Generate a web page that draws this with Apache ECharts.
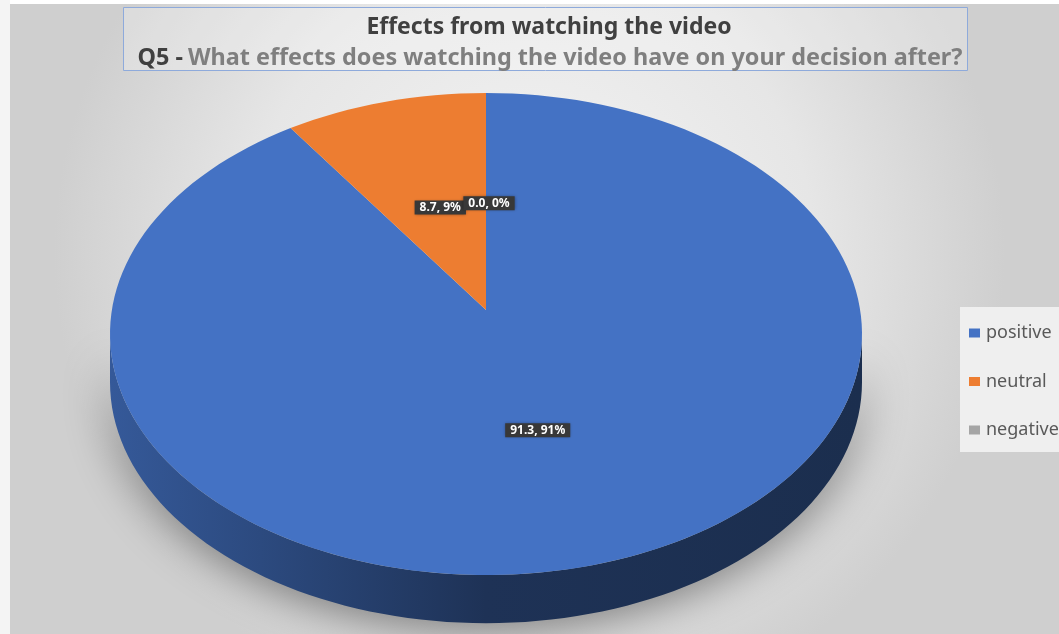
<!DOCTYPE html>
<html>
<head>
<meta charset="utf-8">
<script src="https://cdn.jsdelivr.net/npm/echarts@6/dist/echarts.min.js"></script>
<style>
html,body{margin:0;padding:0;}
#chart{width:1059px;height:634px;}
</style>
</head>
<body>
<div id="chart"></div>
<script>
// 数据
var categories = ['positive', 'neutral', 'negative'];
var values = [91.3, 8.7, 0.0];
var colors = ['#4472c4', '#ed7d31', '#a5a5a5'];
var mainTitle = 'Effects from watching the video';
var subTitleHead = 'Q5 -';
var subTitleBody = 'What effects does watching the video have on your decision after?';

// 饼图参数（椭圆 3D 效果）
var apexY = 0.1;     // 扇形顶点偏移
var depth = 0.2;     // 侧面厚度
var labelR = 0.48;   // 标签半径

var total = values.reduce(function (a, b) { return a + b; }, 0);
var sliceData = [];
var acc = 0;
values.forEach(function (v) {
    sliceData.push([acc / total, (acc + v) / total, v]);
    acc += v;
});

function pt(api, deg, dy) {
    var r = deg * Math.PI / 180;
    return api.coord([Math.cos(r), Math.sin(r) + (dy || 0)]);
}

// 颜色变暗
function darken(c, t) {
    var n = parseInt(c.slice(1), 16);
    var r = Math.round(((n >> 16) & 255) * (1 - t));
    var g = Math.round(((n >> 8) & 255) * (1 - t));
    var b = Math.round((n & 255) * (1 - t));
    return 'rgb(' + r + ',' + g + ',' + b + ')';
}

function sideGradient(c) {
    return new echarts.graphic.LinearGradient(0, 0, 1, 0, [
        { offset: 0, color: darken(c, 0.22) },
        { offset: 0.2, color: darken(c, 0.35) },
        { offset: 0.5, color: darken(c, 0.56) },
        { offset: 1, color: darken(c, 0.6) }
    ]);
}

function makeRender(idx) {
    return function (params, api) {
        var start = api.value(0), end = api.value(1), val = api.value(2);
        var a0 = 90 - start * 360, a1 = 90 - end * 360;
        var children = [];
        var c = colors[idx];

        // 侧面（只画朝前的部分）
        [-1, 0, 1].forEach(function (k) {
            var lo = Math.max(a1, -180 + 360 * k), hi = Math.min(a0, 360 * k);
            if (hi - lo <= 0.01) return;
            var pts = [], bot = [];
            var n = Math.max(2, Math.ceil((hi - lo) / 2));
            for (var j = 0; j <= n; j++) {
                var a = hi - (hi - lo) * j / n;
                pts.push(pt(api, a));
                bot.unshift(pt(api, a, -depth));
            }
            children.push({
                type: 'polygon',
                shape: { points: pts.concat(bot) },
                style: {
                    fill: sideGradient(c),
                    shadowBlur: 45,
                    shadowColor: 'rgba(0,0,0,0.5)',
                    shadowOffsetY: 4
                }
            });
        });

        // 顶面
        if (a0 - a1 > 0.01) {
            var top = [api.coord([0, apexY])];
            var m = Math.max(2, Math.ceil((a0 - a1) / 2));
            for (var i = 0; i <= m; i++) {
                top.push(pt(api, a0 - (a0 - a1) * i / m));
            }
            children.push({
                type: 'polygon',
                shape: { points: top },
                style: { fill: c }
            });
        }

        // 标签
        var mid = (a0 + a1) / 2 * Math.PI / 180;
        var lp = api.coord([labelR * Math.cos(mid), apexY + labelR * Math.sin(mid)]);
        children.push({
            type: 'text',
            x: lp[0] + 3,
            y: lp[1] + 9,
            z2: 10,
            style: {
                text: val.toFixed(1) + ', ' + Math.round(val / total * 100) + '%',
                fill: '#ffffff',
                font: 'bold 12px "Noto Sans"',
                align: 'center',
                verticalAlign: 'middle',
                backgroundColor: '#383838',
                padding: [1, 5, 1, 5],
                shadowBlur: 3,
                shadowColor: 'rgba(0,0,0,0.4)'
            }
        });
        return { type: 'group', children: children };
    };
}

var mycharts = echarts.init(document.getElementById('chart'));
var options = {
    backgroundColor: {
        type: 'radial', x: 0.5, y: 0.4, r: 0.75,
        colorStops: [
            { offset: 0, color: '#f5f5f5' },
            { offset: 0.6, color: '#e6e6e6' },
            { offset: 1, color: '#cfcfcf' }
        ]
    },
    title: [
        {
            text: mainTitle,
            left: 544,
            top: 11,
            textAlign: 'center',
            textStyle: { fontFamily: 'Noto Sans', fontWeight: 'bold', fontSize: 23, color: '#404040' }
        },
        {
            text: '{a|' + subTitleHead + '} {b|' + subTitleBody + '}',
            left: 545,
            top: 42,
            textAlign: 'center',
            textStyle: {
                rich: {
                    a: { fontFamily: 'Noto Sans', fontWeight: 'bold', fontSize: 23.4, color: '#404040' },
                    b: { fontFamily: 'Noto Sans', fontWeight: 'bold', fontSize: 23.4, color: '#7f7f7f' }
                }
            }
        }
    ],
    graphic: [
        { type: 'rect', left: 0, top: 0, shape: { width: 1059, height: 4 }, style: { fill: '#ffffff' }, z: -1 },
        { type: 'rect', left: 0, top: 0, shape: { width: 10, height: 634 }, style: { fill: '#f4f4f4' }, z: -1 },
        { type: 'rect', left: 123, top: 7, shape: { width: 844, height: 63 },
          style: { fill: 'rgba(255,255,255,0.25)', stroke: '#8eaadb', lineWidth: 1 }, z: -1 }
    ],
    legend: {
        data: categories,
        orient: 'vertical',
        left: 960,
        top: 307,
        padding: [17, 20, 13, 9],
        itemGap: 30.5,
        itemWidth: 11,
        itemHeight: 9,
        icon: 'rect',
        backgroundColor: '#efefef',
        textStyle: { fontFamily: 'Noto Sans', fontSize: 18, lineHeight: 18, color: '#595959', padding: [0, 0, 0, 1] }
    },
    grid: { left: 110, top: 93, width: 752, height: 482 },
    xAxis: { type: 'value', min: -1, max: 1, show: false },
    yAxis: { type: 'value', min: -1, max: 1, show: false },
    series: categories.map(function (name, i) {
        return {
            name: name,
            type: 'custom',
            renderItem: makeRender(i),
            itemStyle: { color: colors[i] },
            data: [sliceData[i]],
            silent: true
        };
    })
};
mycharts.setOption(options, true);
window.addEventListener('resize', () => mycharts.resize());
</script>
</body>
</html>
